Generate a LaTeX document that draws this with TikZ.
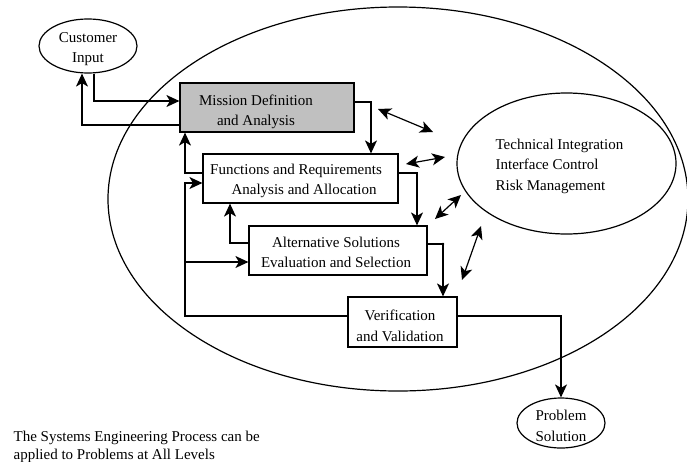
\documentclass[tikz,border=0pt]{standalone}
\usepackage{fontspec}
\setmainfont{Liberation Serif}
\usetikzlibrary{arrows.meta,shapes.geometric}
\definecolor{boxgray}{RGB}{192,192,192}
\begin{document}
\begin{tikzpicture}[
  line width=1.2pt,
  font=\fontsize{15}{20.5}\selectfont,
  arrowtip/.tip={Stealth[length=13pt,width=12pt,inset=3.5pt]},
  arr/.style={-arrowtip},
  darr/.style={arrowtip-arrowtip},
  stagebox/.style={draw,rectangle,inner sep=0pt},
  oval/.style={draw,ellipse,inner sep=0pt},
  lbl/.style={inner sep=0pt,align=center}]
\begin{scope}[x=1pt,y=-1pt]
\useasboundingbox (0,0) rectangle (687,461);
% overall process boundary
\draw (398,199) ellipse [x radius=290, y radius=192];

% outer ovals
\node[oval,minimum width=98pt,minimum height=54pt] (customer) at (88,46) {};
\node[lbl] (customertxt) at (88,49) {Customer\\Input};
\node[oval,minimum width=88pt,minimum height=50pt] (problem) at (561,423) {};
\node[lbl] (problemtxt) at (561,426) {Problem\\Solution};

% process stages
\node[stagebox,fill=boxgray,minimum width=174pt,minimum height=49pt] (mission) at (267,107.5) {};
\node[lbl] (missiontxt) at (256,112) {Mission Definition\\and Analysis};
\node[stagebox,minimum width=195pt,minimum height=49pt] (functions) at (300.5,178.5) {};
\node[lbl] (functionstxt) at (296,181) {Functions and Requirements\\\hspace*{16pt}Analysis and Allocation};
\node[stagebox,minimum width=178pt,minimum height=49pt] (alt) at (338,250.5) {};
\node[lbl] (alttxt) at (336,252.5) {Alternative Solutions\\Evaluation and Selection};
\node[stagebox,minimum width=109pt,minimum height=50pt] (verif) at (402.5,322) {};
\node[lbl] (veriftxt) at (400,326) {Verification\\and Validation};

% technical management oval
\node[oval,minimum width=219pt,minimum height=141pt] (tech) at (566.5,163.5) {};
\node[inner sep=0pt,align=left,anchor=west] (techtxt) at (495,166) {Technical Integration\\Interface Control\\Risk Management};

% flow between stages
\draw[arr] ([xshift=6pt]customer.south) |- ([yshift=6.5pt]mission.west);
\draw[arr] ([yshift=-17.5pt]mission.west) -| ([xshift=-6pt]customer.south);
\draw[arr] ([yshift=5.5pt]mission.east) -| ([xshift=70.5pt]functions.north);
\draw[arr] ([yshift=5.5pt]functions.west) -| ([xshift=-82pt]mission.south);
\coordinate (loop) at (185,316);
\draw[arr] ([yshift=6pt]verif.west) -- (loop) |- ([yshift=-4.5pt]functions.west);
\coordinate (altin) at ([yshift=-11.5pt]alt.west);
\draw[arr] (altin -| loop) -- (altin);
\draw[arr] ([yshift=7.5pt]alt.west) -| ([xshift=-70.5pt]functions.south);
\draw[arr] ([yshift=5.5pt]functions.east) -| ([xshift=79pt]alt.north);
\coordinate (altout) at (443,244);
\draw[arr] ([yshift=6.5pt]alt.east) -- (altout) -- (altout |- verif.north);
\fill (altout) circle (1.3pt);
\draw[arr] ([yshift=6pt]verif.east) -| (problem.north);

% exchanges with technical management
\coordinate (m1) at (378,109); \coordinate (t1) at (433,132);
\coordinate (m2) at (406,164); \coordinate (t2) at (445,157);
\coordinate (m3) at (435,219); \coordinate (t3) at (461,195);
\coordinate (m4) at (462,280); \coordinate (t4) at (481,226);
\draw[darr] (m1) -- (t1);
\draw[darr] (m2) -- (t2);
\draw[darr] (m3) -- (t3);
\draw[darr] (m4) -- (t4);

% note
\node[inner sep=0pt,align=left,anchor=north west] (note) at (13,430) {The Systems Engineering Process can be\\[-2.5pt]applied to Problems at All Levels};
\end{scope}
\end{tikzpicture}
\end{document}
